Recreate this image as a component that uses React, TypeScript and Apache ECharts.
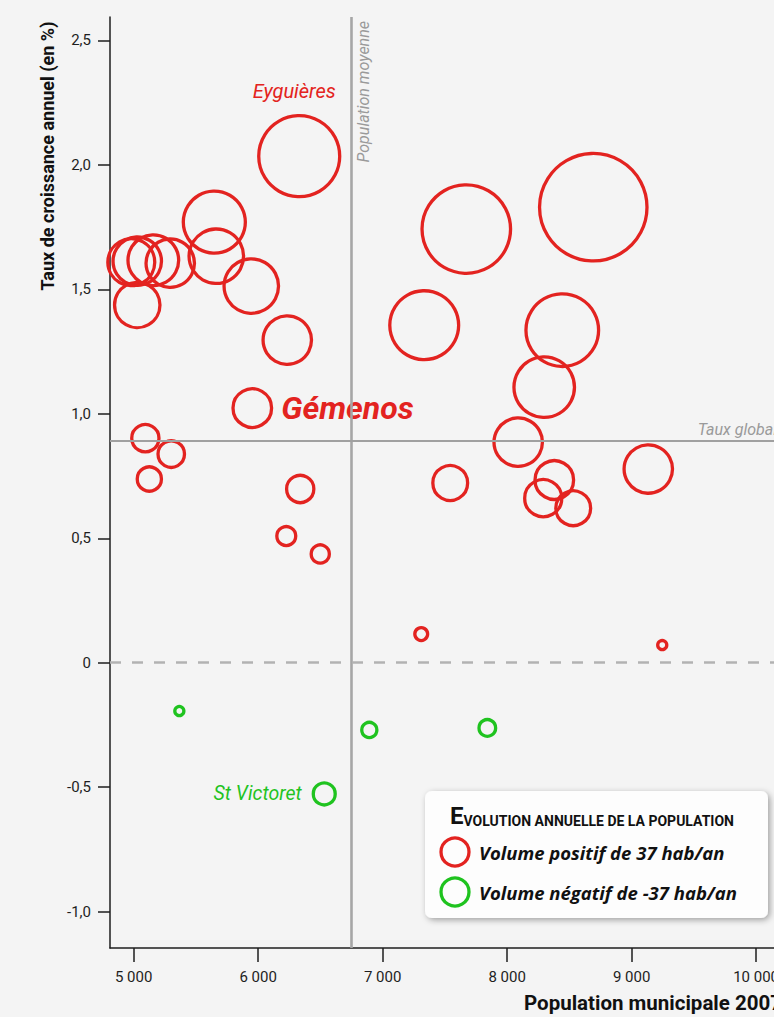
import React, { useEffect, useRef } from "react";
import * as echarts from "echarts";

// ---- Data ----
// Communes with a positive annual change
const posPopulation = [6330, 8692, 7672, 7334, 8443, 8298, 8089, 7543, 8379, 8290, 8531, 9134, 7310, 9246, 4981, 5029, 5158, 5294, 5029, 5648, 5664, 5945, 6234, 5953, 5094, 5302, 5126, 6338, 6226, 6499];
const posRate = [2.035, 1.83, 1.742, 1.356, 1.336, 1.107, 0.886, 0.722, 0.734, 0.661, 0.621, 0.778, 0.115, 0.071, 1.609, 1.613, 1.617, 1.605, 1.437, 1.77, 1.633, 1.513, 1.296, 1.023, 0.902, 0.838, 0.738, 0.698, 0.509, 0.437];
const posVolume = [107, 142, 117, 91, 96, 80, 64, 46, 51, 49, 46, 64, 17, 12, 62, 64, 67, 64, 60, 82, 72, 72, 64, 51, 36, 35, 32, 36, 25, 24];
const posNames = ["Eyguières", "", "", "", "", "", "", "", "", "", "", "", "", "", "", "", "", "", "", "", "", "", "", "Gémenos", "", "", "", "", "", ""];

// Communes with a negative annual change
const negPopulation = [5367, 6893, 7841, 6531];
const negRate = [-0.194, -0.27, -0.262, -0.527];
const negVolume = [-12, -20, -22, -29];
const negNames = ["", "", "", "St Victoret"];

const meanPopulation = 6750;
const globalRate = 0.886;

const xTicks = [5000, 6000, 7000, 8000, 9000, 10000];
const yTicks = [-1, -0.5, 0, 0.5, 1, 1.5, 2, 2.5];

const legendVolume = 37;

// ---- Styles ----
const RED = "#e32320";
const GREEN = "#1fc31f";
const DARK = "#1e1e1e";
const GREY = "#a6a6a6";
const FONT = "Roboto, 'Liberation Sans', sans-serif";
const FONT2 = "'Open Sans', 'Liberation Sans', sans-serif";

const radiusOf = (v: number) => (14 * Math.abs(v)) / legendVolume;

const labelStyles: Record<string, any> = {
  "Eyguières": { show: true, position: "top", distance: 13, offset: [-5, 0], fontStyle: "italic", fontSize: 20, color: RED, fontFamily: FONT },
  "Gémenos": { show: true, position: "right", distance: 8, fontStyle: "italic", fontWeight: "bold", fontSize: 32, color: RED, fontFamily: FONT },
  "St Victoret": { show: true, position: "left", distance: 10, fontStyle: "italic", fontSize: 19.5, color: GREEN, fontFamily: FONT },
};

const buildData = (pop: number[], rate: number[], vol: number[], names: string[]) =>
  pop.map((p, i) => ({
    name: names[i],
    value: [p, rate[i], vol[i]],
    label: names[i] ? { ...labelStyles[names[i]], formatter: names[i] } : { show: false },
  }));

const fmtThousands = (v: number) => String(v).replace(/\B(?=(\d{3})+(?!\d))/g, " ");
const fmtRate = (v: number) => (v === 0 ? "0" : v.toFixed(1).replace(".", ","));

const option: any = {
  animation: false,
  backgroundColor: "#f4f4f4",
  grid: { left: 110, top: 17, bottom: 69, right: 9 },
  xAxis: {
    type: "value",
    min: 4810,
    max: 10200,
    axisLine: { onZero: false, lineStyle: { color: DARK, width: 1.5 } },
    axisTick: { customValues: xTicks, length: 14, lineStyle: { color: DARK, width: 1.5 } },
    axisLabel: { customValues: xTicks, formatter: fmtThousands, margin: 21, color: DARK, fontSize: 15, fontFamily: FONT },
    splitLine: { show: false },
  },
  yAxis: {
    type: "value",
    min: -1.146,
    max: 2.594,
    axisLine: { show: true, onZero: false, lineStyle: { color: DARK, width: 1.5 } },
    axisTick: { show: true, customValues: yTicks, length: 12, lineStyle: { color: DARK, width: 1.5 } },
    axisLabel: { customValues: yTicks, formatter: fmtRate, margin: 19, color: DARK, fontSize: 15, fontFamily: FONT },
    splitLine: { show: false },
  },
  series: [
    {
      type: "scatter",
      name: "Volume positif",
      z: 3,
      symbol: "circle",
      symbolSize: (val: number[]) => 2 * radiusOf(val[2]),
      itemStyle: { color: "rgba(0,0,0,0)", borderColor: RED, borderWidth: 3.3, opacity: 1 },
      emphasis: { disabled: true },
      data: buildData(posPopulation, posRate, posVolume, posNames),
      markLine: {
        silent: true,
        symbol: ["none", "none"],
        animation: false,
        data: [
          {
            xAxis: meanPopulation,
            lineStyle: { color: GREY, width: 2.6, type: "solid" },
            label: { show: true, position: "insideEndBottom", formatter: "Population moyenne", color: "#9a9a9a", fontStyle: "italic", fontSize: 16, fontFamily: FONT, distance: 4 },
          },
          {
            yAxis: globalRate,
            lineStyle: { color: "#a0a0a0", width: 2, type: "solid" },
            label: { show: true, position: "insideEndTop", formatter: "Taux global", color: "#9a9a9a", fontStyle: "italic", fontSize: 16, fontFamily: FONT, distance: 4 },
          },
          {
            yAxis: 0,
            lineStyle: { color: "#b2b2b2", width: 2.5, type: [11, 11] },
            label: { show: false },
          },
        ],
      },
    },
    {
      type: "scatter",
      name: "Volume négatif",
      z: 3,
      symbol: "circle",
      symbolSize: (val: number[]) => 2 * radiusOf(val[2]),
      itemStyle: { color: "rgba(0,0,0,0)", borderColor: GREEN, borderWidth: 3.3, opacity: 1 },
      emphasis: { disabled: true },
      data: buildData(negPopulation, negRate, negVolume, negNames),
    },
  ],
  graphic: [
    {
      type: "text",
      x: 47,
      y: 156,
      rotation: Math.PI / 2,
      style: { text: "Taux de croissance annuel (en %)", fill: "#111", fontSize: 18, fontWeight: "bold", fontFamily: FONT, textAlign: "center", textVerticalAlign: "middle", align: "center", verticalAlign: "middle" },
    },
    {
      type: "text",
      x: 782,
      y: 1003,
      style: { text: "Population municipale 2007", fill: "#111", fontSize: 20.5, fontWeight: "bold", fontFamily: FONT, textAlign: "right", textVerticalAlign: "middle", align: "right", verticalAlign: "middle" },
    },
    {
      type: "group",
      z: 100,
      children: [
        {
          type: "rect",
          shape: { x: 425, y: 791, width: 343, height: 127, r: 7 },
          style: { fill: "#fdfdfd", shadowBlur: 6, shadowColor: "rgba(0,0,0,0.35)", shadowOffsetX: 2, shadowOffsetY: 2 },
        },
        {
          type: "text",
          x: 592,
          y: 816,
          style: {
            text: "{a|E}{b|VOLUTION ANNUELLE DE LA POPULATION}",
            fill: "#111",
            textAlign: "center",
            textVerticalAlign: "middle",
            align: "center",
            verticalAlign: "middle",
            rich: {
              a: { fontSize: 24, fontWeight: "bold", fontFamily: FONT, fill: "#111", color: "#111", verticalAlign: "bottom" },
              b: { fontSize: 14, fontWeight: "bold", fontFamily: FONT, fill: "#111", color: "#111", verticalAlign: "bottom" },
            },
          },
        },
        {
          type: "circle",
          shape: { cx: 455, cy: 852, r: radiusOf(legendVolume) },
          style: { fill: "none", stroke: RED, lineWidth: 3.3 },
        },
        {
          type: "text",
          x: 479,
          y: 852,
          style: { text: "Volume positif de " + legendVolume + " hab/an", fill: "#111", fontSize: 18.5, fontWeight: "bold", fontStyle: "italic", fontFamily: FONT2, textVerticalAlign: "middle", verticalAlign: "middle" },
        },
        {
          type: "circle",
          shape: { cx: 455, cy: 892, r: radiusOf(-legendVolume) },
          style: { fill: "none", stroke: GREEN, lineWidth: 3.3 },
        },
        {
          type: "text",
          x: 479,
          y: 892,
          style: { text: "Volume négatif de -" + legendVolume + " hab/an", fill: "#111", fontSize: 18.5, fontWeight: "bold", fontStyle: "italic", fontFamily: FONT2, textVerticalAlign: "middle", verticalAlign: "middle" },
        },
      ],
    },
  ],
};

export default function App() {
  const ref = useRef<HTMLDivElement>(null);
  useEffect(() => {
    if (!ref.current) return;
    const chart = echarts.init(ref.current, null, { renderer: "svg" });
    chart.setOption(option);
    return () => chart.dispose();
  }, []);
  return (
    <div style={{ position: "absolute", left: 0, top: 0, width: 774, height: 1017, overflow: "hidden" }}>
      <div ref={ref} style={{ width: 790, height: 1017 }} />
    </div>
  );
}
